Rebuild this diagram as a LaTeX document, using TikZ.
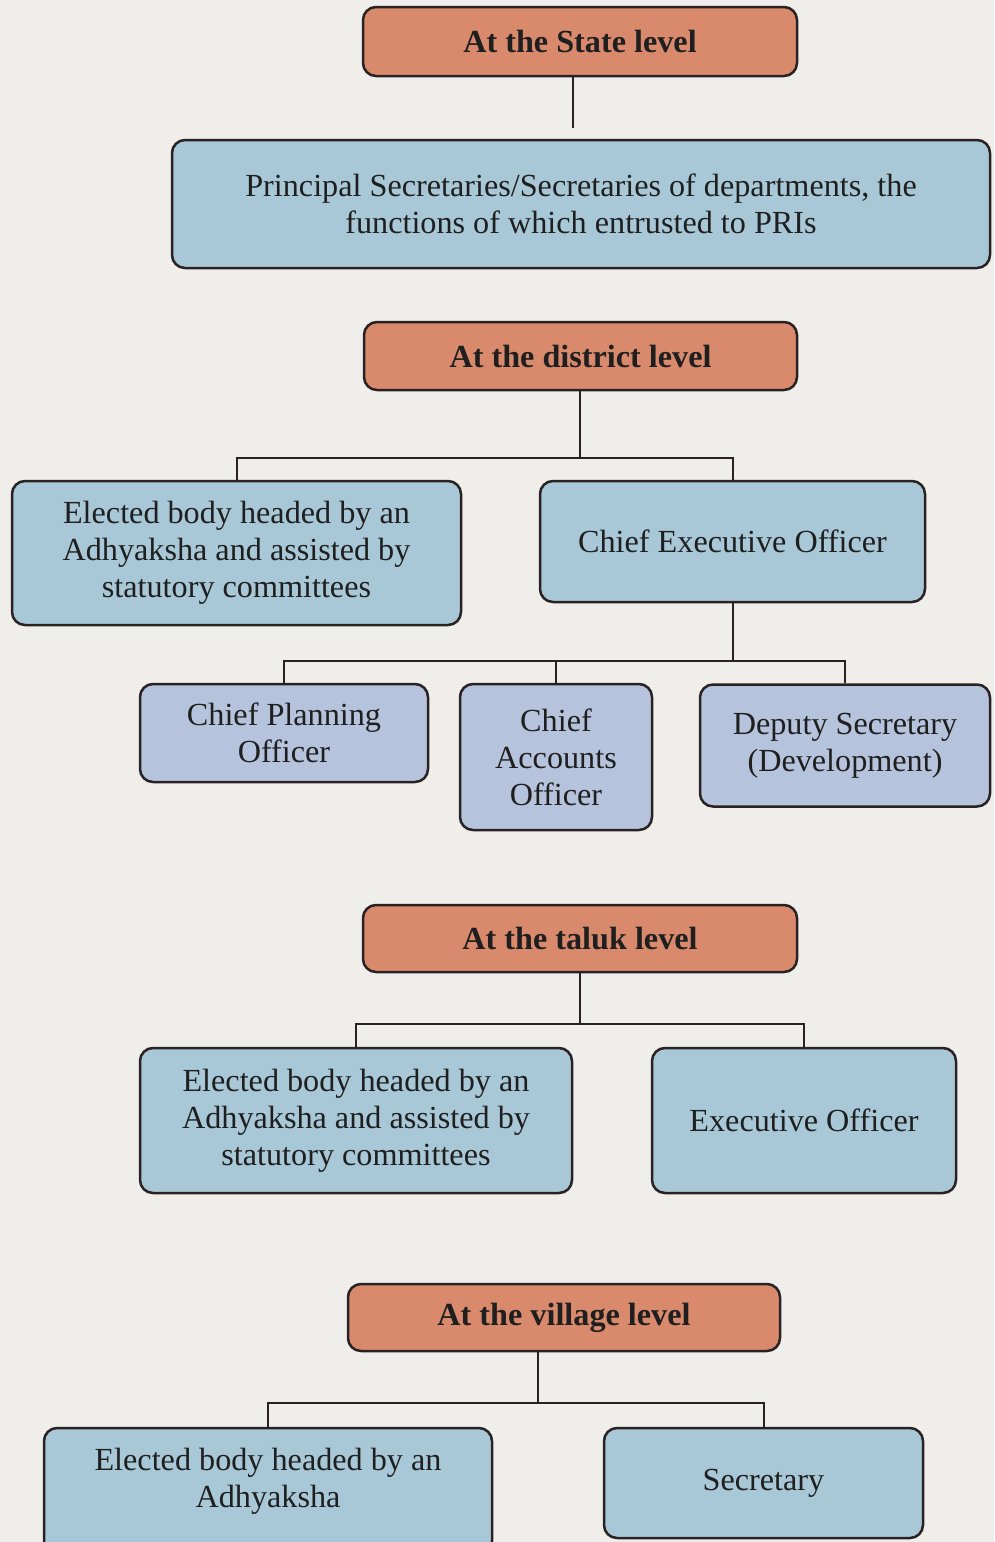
\documentclass[tikz,border=0pt]{standalone}
\usepackage{fontspec}
\setmainfont{Liberation Serif}
\definecolor{bgc}{HTML}{EFEEEA}
\definecolor{orng}{HTML}{D98A6C}
\definecolor{blu}{HTML}{A9C8D7}
\definecolor{lav}{HTML}{B6C3DC}
\definecolor{edge}{HTML}{2A2222}
\begin{document}
\begin{tikzpicture}[x=1pt,y=-1pt,
  txt/.style={align=center, inner sep=0pt, font=\fontsize{32.2}{37}\selectfont, text=black!88},
  base/.style={txt, draw=edge, line width=2.5pt, rounded corners=13pt},
  lvl/.style={base, fill=orng, font=\fontsize{32.2}{37}\selectfont\bfseries},
  bbox/.style={base, fill=blu},
  pbox/.style={base, fill=lav},
  conn/.style={draw=edge, line width=2pt}]
\fill[bgc] (0,0) rectangle (994,1542);
\useasboundingbox (0,0) rectangle (994,1542);
\clip (0,0) rectangle (994,1542);

% State level
\node[lvl, minimum width=434pt, minimum height=69pt] (state) at (580,41.5) {\raisebox{-6pt}{At the State level}};
\node[bbox, minimum width=818pt, minimum height=128pt] (prin) at (581,204)
  {Principal Secretaries/Secretaries of departments, the\\functions of which entrusted to PRIs};
\draw[conn, shorten >=11pt] (state.south -| 573,0) -- (prin.north -| 573,0);

% District level
\node[lvl, minimum width=433pt, minimum height=68pt] (dist) at (580.5,356) {At the district level};
\node[bbox, minimum width=449pt, minimum height=144pt] (eb1) at (236.5,553) {Elected body headed by an\\Adhyaksha and assisted by\\statutory committees};
\node[bbox, minimum width=385pt, minimum height=121pt] (ceo) at (732.5,541.5) {Chief Executive Officer};
\coordinate (jd) at (580,458);
\draw[conn] (dist.south -| jd) -- (jd);
\draw[conn] (eb1.north) |- (jd) -| (ceo.north);

\node[pbox, minimum width=288pt, minimum height=98pt] (cpo) at (284,733) {Chief Planning\\Officer};
\node[pbox, minimum width=192pt, minimum height=146pt] (cao) at (556,757) {Chief\\Accounts\\Officer};
\node[pbox, minimum width=290pt, minimum height=122pt] (dsd) at (845,745.5) {Deputy Secretary\\(Development)};
\coordinate (jc) at (732.5,661);
\draw[conn] (ceo.south) -- (jc);
\draw[conn] (cpo.north) |- (jc) -| (dsd.north);
\draw[conn] (cao.north) -- (cao.north |- jc);

% Taluk level
\node[lvl, minimum width=434pt, minimum height=67pt] (taluk) at (580,938.5) {At the taluk level};
\node[bbox, minimum width=432pt, minimum height=145pt] (eb2) at (356,1120.5) {Elected body headed by an\\Adhyaksha and assisted by\\statutory committees};
\node[bbox, minimum width=304pt, minimum height=145pt] (eo) at (804,1120.5) {Executive Officer};
\coordinate (jt) at (580,1024);
\draw[conn] (taluk.south) -- (jt);
\draw[conn] (eb2.north) |- (jt) -| (eo.north);

% Village level
\node[lvl, minimum width=432pt, minimum height=67pt] (vill) at (564,1317.5) {At the village level};
\node[bbox, minimum width=448pt, minimum height=126pt] (eb3) at (268,1491) {};
\node[txt] (eb3t) at (268,1481) {Elected body headed by an\\Adhyaksha};
\node[bbox, minimum width=319pt, minimum height=110pt] (sec) at (763.5,1483) {Secretary};
\coordinate (jv) at (538,1403);
\draw[conn] (vill.south -| jv) -- (jv);
\draw[conn] (eb3.north) |- (jv) -| (sec.north);
\end{tikzpicture}
\end{document}
